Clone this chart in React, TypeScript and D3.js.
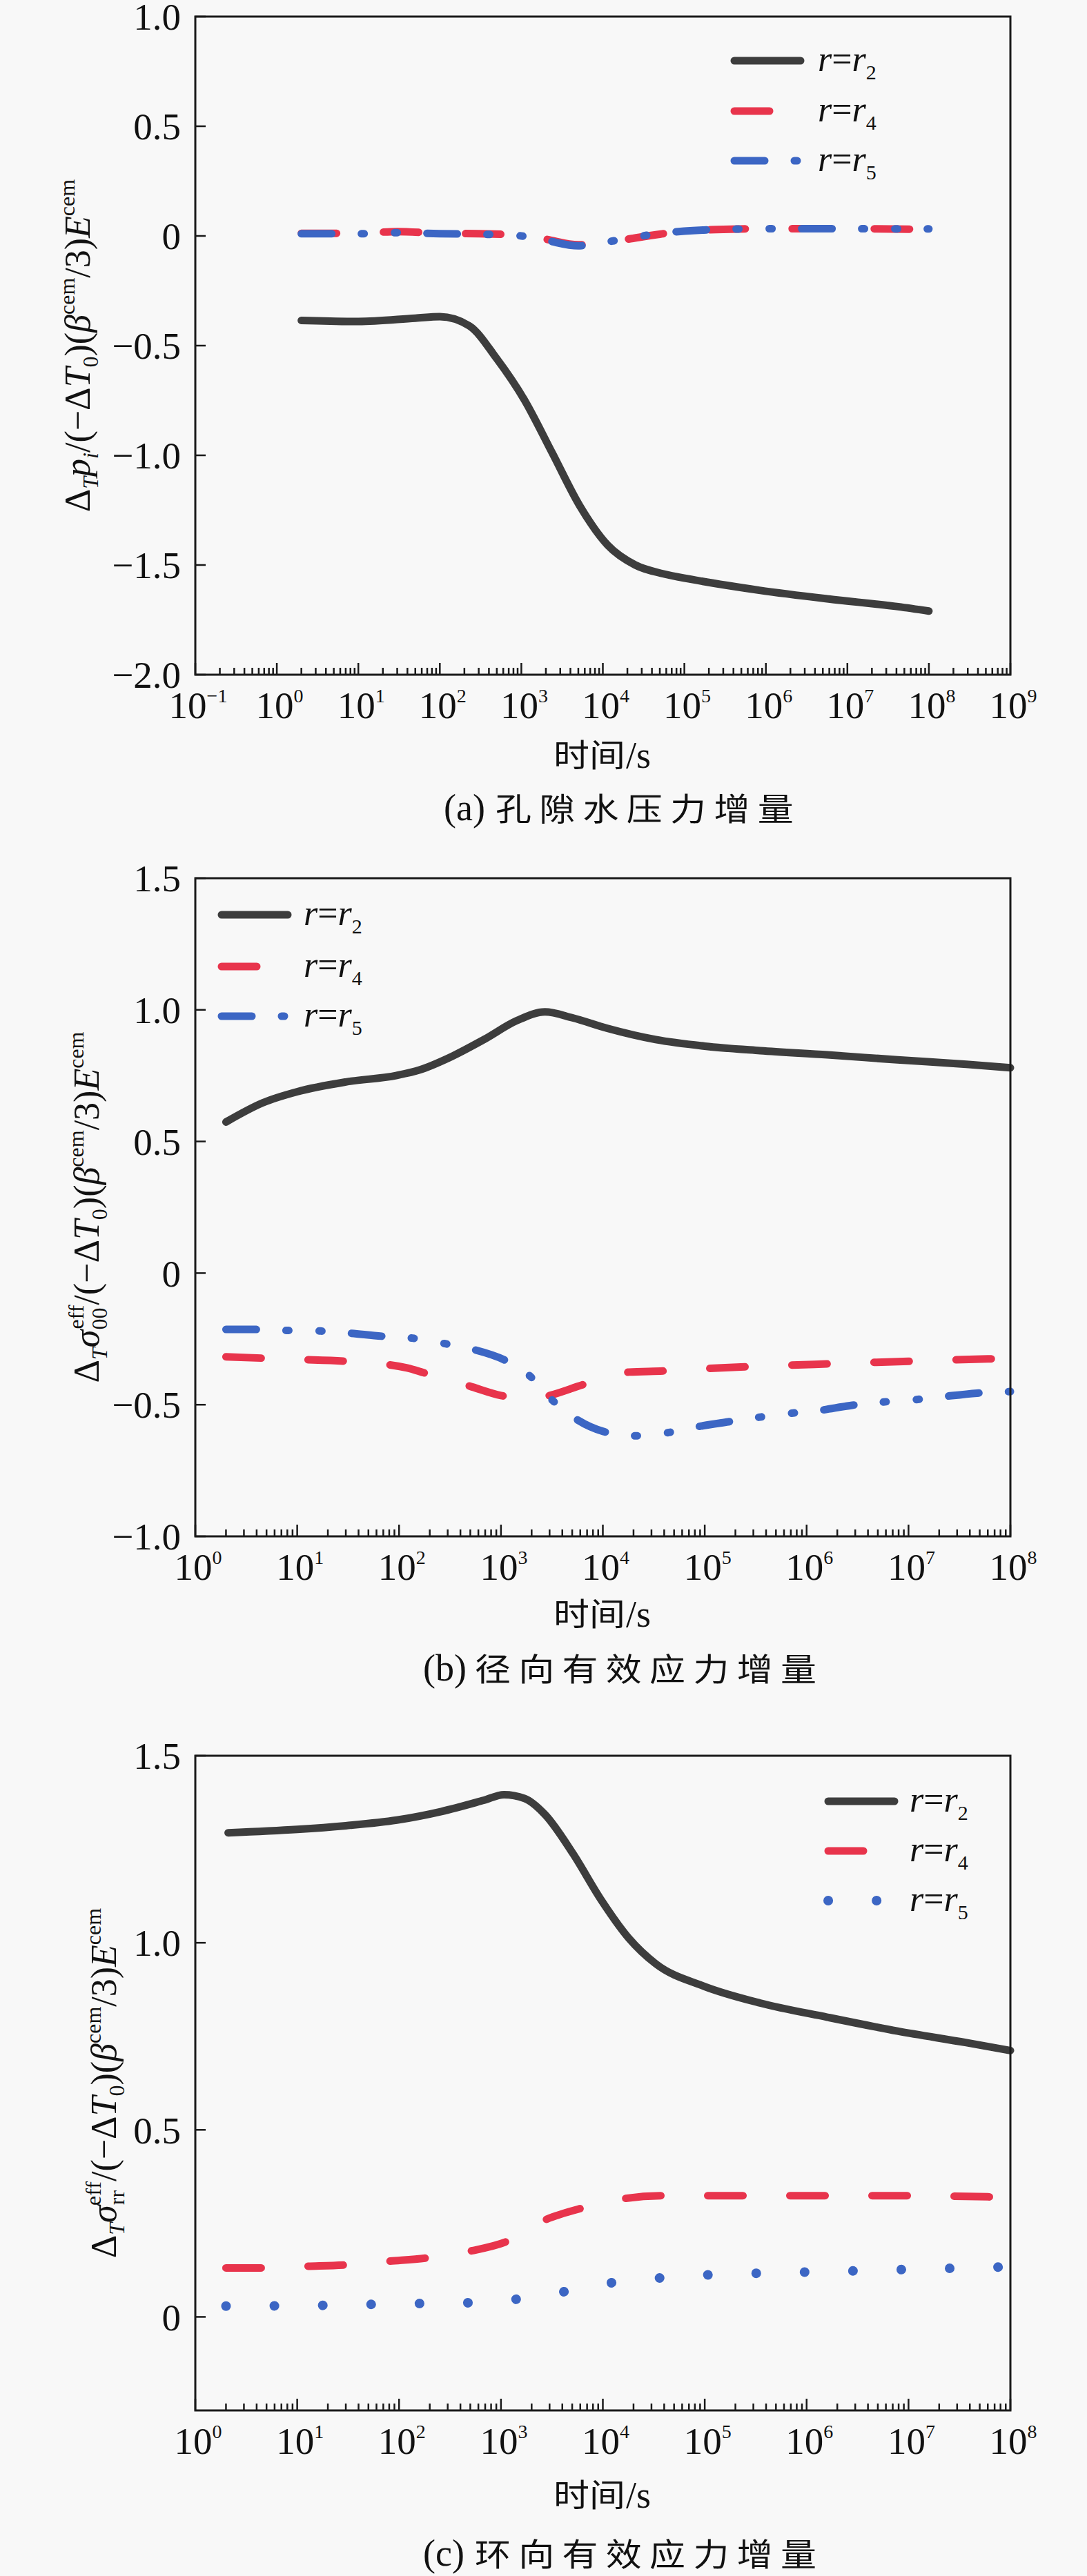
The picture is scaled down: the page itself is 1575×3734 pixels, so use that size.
import * as d3 from "d3";
import React from "react";

const W = 1575;
const H = 3734;
const LEFT = 283;
const RIGHT = 1464;

const BLACK = "#3d3d3d";
const RED = "#e8344c";
const BLUE = "#3c66c4";
const DASH = "51 68";
const DASH_DOT_DOT = "44 43 4 44 4 43";
const DOTS = "0.1 70";

const SERIF = "Liberation Serif, serif";
const CJK = "Noto Sans CJK SC, sans-serif";

// (a) pore water pressure increment
const aTimeR2 = [2, 10, 50, 100, 230, 500, 1100, 2400, 5200, 11500, 25000, 55000, 120000, 830000, 5.9e6, 4.2e7, 1e8];
const aR2 = [-0.385, -0.39, -0.375, -0.368, -0.41, -0.56, -0.75, -0.99, -1.23, -1.41, -1.5, -1.54, -1.565, -1.615, -1.655, -1.69, -1.71];
const aTimeNear = [2, 10, 30, 100, 300, 1000, 2000, 5000, 1e4, 2e4, 5e4, 1e5, 3e5, 1e6, 1e7, 1e8];
const aR4 = [0.012, 0.012, 0.02, 0.012, 0.01, 0.004, -0.015, -0.04, -0.032, -0.015, 0.008, 0.022, 0.03, 0.033, 0.033, 0.03];
const aR5 = [0.01, 0.01, 0.015, 0.01, 0.008, 0.0, -0.02, -0.045, -0.03, -0.012, 0.012, 0.022, 0.03, 0.033, 0.033, 0.032];
const aYTicks = [1.0, 0.5, 0, -0.5, -1.0, -1.5, -2.0];
const aYLabels = ["1.0", "0.5", "0", "\u22120.5", "\u22121.0", "\u22121.5", "\u22122.0"];

// (b) radial effective stress increment
const bTimeR2 = [2, 4.6, 10, 30, 95, 160, 310, 680, 1450, 2700, 5000, 1.1e4, 3.3e4, 1e5, 3.5e5, 1.6e6, 7.8e6, 3.7e7, 1e8];
const bR2 = [0.574, 0.647, 0.689, 0.726, 0.751, 0.772, 0.818, 0.887, 0.96, 0.992, 0.97, 0.93, 0.887, 0.862, 0.845, 0.829, 0.81, 0.793, 0.78];
const bTimeR4 = [2, 10, 30, 120, 180, 490, 1000, 2000, 3000, 6500, 1.8e4, 3.9e4, 1.1e5, 2.5e5, 6.3e5, 1.6e6, 1e7, 6e7, 1e8];
const bR4 = [-0.318, -0.328, -0.335, -0.36, -0.38, -0.429, -0.465, -0.48, -0.465, -0.423, -0.376, -0.372, -0.362, -0.356, -0.35, -0.345, -0.335, -0.326, -0.325];
const bTimeR5 = [2, 4, 8.5, 17, 32, 69, 135, 282, 525, 1150, 1950, 3160, 5500, 1.02e4, 2e4, 4.2e4, 7.8e4, 1.7e5, 3.2e5, 6.8e5, 1.26e6, 2.8e6, 5.5e6, 1.15e7, 2.1e7, 4.7e7, 1e8];
const bR5 = [-0.214, -0.214, -0.218, -0.22, -0.228, -0.24, -0.247, -0.268, -0.289, -0.335, -0.393, -0.481, -0.555, -0.602, -0.618, -0.607, -0.586, -0.565, -0.549, -0.533, -0.523, -0.502, -0.49, -0.481, -0.47, -0.456, -0.45];
const bYTicks = [1.5, 1.0, 0.5, 0, -0.5, -1.0];
const bYLabels = ["1.5", "1.0", "0.5", "0", "\u22120.5", "\u22121.0"];

// (c) hoop effective stress increment
const cTimeR2 = [2.1, 10, 30, 95, 260, 680, 1070, 1700, 2700, 5100, 9500, 1.8e4, 3.3e4, 9.8e4, 3.5e5, 1.6e6, 7.8e6, 3.7e7, 1e8];
const cR2 = [1.294, 1.303, 1.313, 1.328, 1.351, 1.381, 1.396, 1.386, 1.343, 1.238, 1.117, 1.012, 0.944, 0.884, 0.839, 0.801, 0.764, 0.733, 0.712];
const cTimeR4 = [2, 5, 12, 30, 80, 180, 500, 1150, 2700, 6500, 1.6e4, 3.9e4, 1e5, 1e6, 1e7, 6e7, 1e8];
const cR4 = [0.131, 0.131, 0.135, 0.139, 0.149, 0.157, 0.176, 0.202, 0.259, 0.292, 0.316, 0.324, 0.324, 0.324, 0.324, 0.321, 0.32];
const cTimeR5 = [2, 10, 100, 500, 1500, 4500, 1.35e4, 4e4, 1.2e5, 3.6e5, 1.1e6, 1e7, 1e8];
const cR5 = [0.029, 0.03, 0.035, 0.038, 0.048, 0.069, 0.093, 0.105, 0.113, 0.117, 0.12, 0.127, 0.134];
const cYTicks = [1.5, 1.0, 0.5, 0];
const cYLabels = ["1.5", "1.0", "0.5", "0"];

type Seg = { t: string; it?: boolean; pos?: "sub" | "sup"; dx?: number };

const legendNames: Seg[][] = ["2", "4", "5"].map((k) => [
  { t: "r", it: true },
  { t: "=" },
  { t: "r", it: true },
  { t: k, pos: "sub" },
]);

const tail: Seg[] = [
  { t: "/(\u2212\u0394" },
  { t: "T", it: true },
  { t: "0", pos: "sub" },
  { t: ")(" },
  { t: "\u03b2", it: true },
  { t: "cem", pos: "sup" },
  { t: "/3)" },
  { t: "E", it: true },
  { t: "cem", pos: "sup" },
];
const aYTitle: Seg[] = [{ t: "\u0394" }, { t: "T", it: true, pos: "sub" }, { t: "p", it: true }, { t: "i", it: true, pos: "sub" }, ...tail];
const bYTitle: Seg[] = [
  { t: "\u0394" },
  { t: "T", it: true, pos: "sub" },
  { t: "\u03c3", it: true },
  { t: "00", pos: "sub" },
  { t: "eff", pos: "sup", dx: -31 },
  ...tail,
];
const cYTitle: Seg[] = [
  { t: "\u0394" },
  { t: "T", it: true, pos: "sub" },
  { t: "\u03c3", it: true },
  { t: "rr", pos: "sub" },
  { t: "eff", pos: "sup", dx: -22 },
  ...tail,
];

function Rich({ segs, size, small }: { segs: Seg[]; size: number; small: number }) {
  let cur = 0;
  return (
    <>
      {segs.map((s, i) => {
        const target = s.pos === "sub" ? size * 0.24 : s.pos === "sup" ? -size * 0.42 : 0;
        const dy = target - cur;
        cur = target;
        return (
          <tspan key={i} dy={dy} dx={s.dx} fontStyle={s.it ? "italic" : "normal"} fontSize={s.pos ? small : size}>
            {s.t}
          </tspan>
        );
      })}
    </>
  );
}

type Series = { t: number[]; v: number[]; color: string; dash?: string; width: number };

type PanelProps = {
  top: number;
  bottom: number;
  xMin: number;
  xMax: number;
  yDomain: [number, number];
  yTicks: number[];
  yLabels: string[];
  series: Series[];
  legend: { x: number; ys: number[]; textX: number };
  yTitle: Seg[];
  yTitleX: number;
  xTitleY: number;
  tag: string;
  caption: string;
  captionX: number;
  captionY: number;
};

function Panel(p: PanelProps) {
  const x = d3.scaleLog().domain([p.xMin, p.xMax]).range([LEFT, RIGHT]);
  const y = d3.scaleLinear().domain(p.yDomain).range([p.bottom, p.top]);
  const line = d3
    .line<[number, number]>()
    .x((d) => x(d[0]))
    .y((d) => y(d[1]))
    .curve(d3.curveMonotoneX);

  const e0 = Math.round(Math.log10(p.xMin));
  const e1 = Math.round(Math.log10(p.xMax));
  const majors = d3.range(e0, e1 + 1);
  const minors: number[] = [];
  for (let e = e0; e < e1; e++) for (let k = 2; k <= 9; k++) minors.push(k * Math.pow(10, e));
  const cy = (p.top + p.bottom) / 2;

  return (
    <g>
      {p.series.map((s, i) => (
        <path
          key={i}
          d={line(s.t.map((t, j) => [t, s.v[j]] as [number, number])) || ""}
          fill="none"
          stroke={s.color}
          strokeWidth={s.width}
          strokeDasharray={s.dash}
          strokeLinecap="round"
          strokeLinejoin="round"
        />
      ))}
      <rect x={LEFT} y={p.top} width={RIGHT - LEFT} height={p.bottom - p.top} fill="none" stroke="#1a1a1a" strokeWidth={3} />
      <g stroke="#1a1a1a" strokeWidth={2.5}>
        {majors.map((e) => (
          <line key={"M" + e} x1={x(Math.pow(10, e))} x2={x(Math.pow(10, e))} y1={p.bottom} y2={p.bottom - 17} />
        ))}
        {minors.map((m, i) => (
          <line key={"m" + i} x1={x(m)} x2={x(m)} y1={p.bottom} y2={p.bottom - 10} />
        ))}
        {p.yTicks.map((v) => (
          <line key={"y" + v} x1={LEFT} x2={LEFT + 15} y1={y(v)} y2={y(v)} />
        ))}
      </g>
      <g fontFamily={SERIF} fill="#111">
        {majors.map((e) => (
          <text key={"xl" + e} x={x(Math.pow(10, e)) + 4} y={p.bottom + 63} textAnchor="middle" fontSize={55}>
            <Rich segs={[{ t: "10" }, { t: e < 0 ? "\u2212" + -e : String(e), pos: "sup" }]} size={55} small={28} />
          </text>
        ))}
        {p.yTicks.map((v, i) => (
          <text key={"yl" + v} x={262} y={y(v)} dy="0.35em" textAnchor="end" fontSize={55}>
            {p.yLabels[i]}
          </text>
        ))}
        <text transform={`translate(${p.yTitleX},${cy}) rotate(-90)`} textAnchor="middle" fontSize={52}>
          <Rich segs={p.yTitle} size={52} small={32} />
        </text>
        <g transform={`translate(802,${p.xTitleY}) scale(1.13,1)`}>
          <text x={0} y={0} fontFamily={CJK} fontSize={46}>
            时间
          </text>
        </g>
        <text x={907} y={p.xTitleY + 2} fontSize={54}>
          /s
        </text>
        <text x={p.captionX} y={p.captionY} fontSize={54}>
          {p.tag}
        </text>
        <g transform={`translate(${p.captionX + 75},${p.captionY}) scale(1.13,1)`}>
          <text x={0} y={0} fontFamily={CJK} fontSize={46} letterSpacing={10}>
            {p.caption}
          </text>
        </g>
      </g>
      {p.series.map((s, i) => (
        <g key={"lg" + i}>
          <line
            x1={p.legend.x + 5}
            x2={p.legend.x + 101}
            y1={p.legend.ys[i]}
            y2={p.legend.ys[i]}
            stroke={s.color}
            strokeWidth={s.width}
            strokeDasharray={s.dash}
            strokeLinecap="round"
          />
          <text x={p.legend.textX} y={p.legend.ys[i] + 15} fontSize={52} fill="#111" fontFamily={SERIF}>
            <Rich segs={legendNames[i]} size={52} small={30} />
          </text>
        </g>
      ))}
    </g>
  );
}

export default function App() {
  return (
    <svg
      width={W}
      height={H}
      viewBox={`0 0 ${W} ${H}`}
      style={{ position: "absolute", left: 0, top: 0, background: "#f8f8f8" }}
    >
      <rect width={W} height={H} fill="#f8f8f8" />
      <Panel
        top={24}
        bottom={978}
        xMin={0.1}
        xMax={1e9}
        yDomain={[-2, 1]}
        yTicks={aYTicks}
        yLabels={aYLabels}
        series={[
          { t: aTimeR2, v: aR2, color: BLACK, width: 11 },
          { t: aTimeNear, v: aR4, color: RED, dash: DASH, width: 11 },
          { t: aTimeNear, v: aR5, color: BLUE, dash: DASH_DOT_DOT, width: 11 },
        ]}
        legend={{ x: 1059, ys: [88, 161, 233], textX: 1185 }}
        yTitle={aYTitle}
        yTitleX={130}
        xTitleY={1111}
        tag="(a)"
        caption="孔隙水压力增量"
        captionX={643}
        captionY={1189}
      />
      <Panel
        top={1273}
        bottom={2227}
        xMin={1}
        xMax={1e8}
        yDomain={[-1, 1.5]}
        yTicks={bYTicks}
        yLabels={bYLabels}
        series={[
          { t: bTimeR2, v: bR2, color: BLACK, width: 11 },
          { t: bTimeR4, v: bR4, color: RED, dash: DASH, width: 11 },
          { t: bTimeR5, v: bR5, color: BLUE, dash: DASH_DOT_DOT, width: 11 },
        ]}
        legend={{ x: 316, ys: [1326, 1401, 1473], textX: 440 }}
        yTitle={bYTitle}
        yTitleX={143}
        xTitleY={2356}
        tag="(b)"
        caption="径向有效应力增量"
        captionX={613}
        captionY={2436}
      />
      <Panel
        top={2545}
        bottom={3494}
        xMin={1}
        xMax={1e8}
        yDomain={[-0.25, 1.5]}
        yTicks={cYTicks}
        yLabels={cYLabels}
        series={[
          { t: cTimeR2, v: cR2, color: BLACK, width: 11 },
          { t: cTimeR4, v: cR4, color: RED, dash: DASH, width: 11 },
          { t: cTimeR5, v: cR5, color: BLUE, dash: DOTS, width: 14 },
        ]}
        legend={{ x: 1195, ys: [2611, 2683, 2755], textX: 1318 }}
        yTitle={cYTitle}
        yTitleX={168}
        xTitleY={3633}
        tag="(c)"
        caption="环向有效应力增量"
        captionX={613}
        captionY={3719}
      />
    </svg>
  );
}
